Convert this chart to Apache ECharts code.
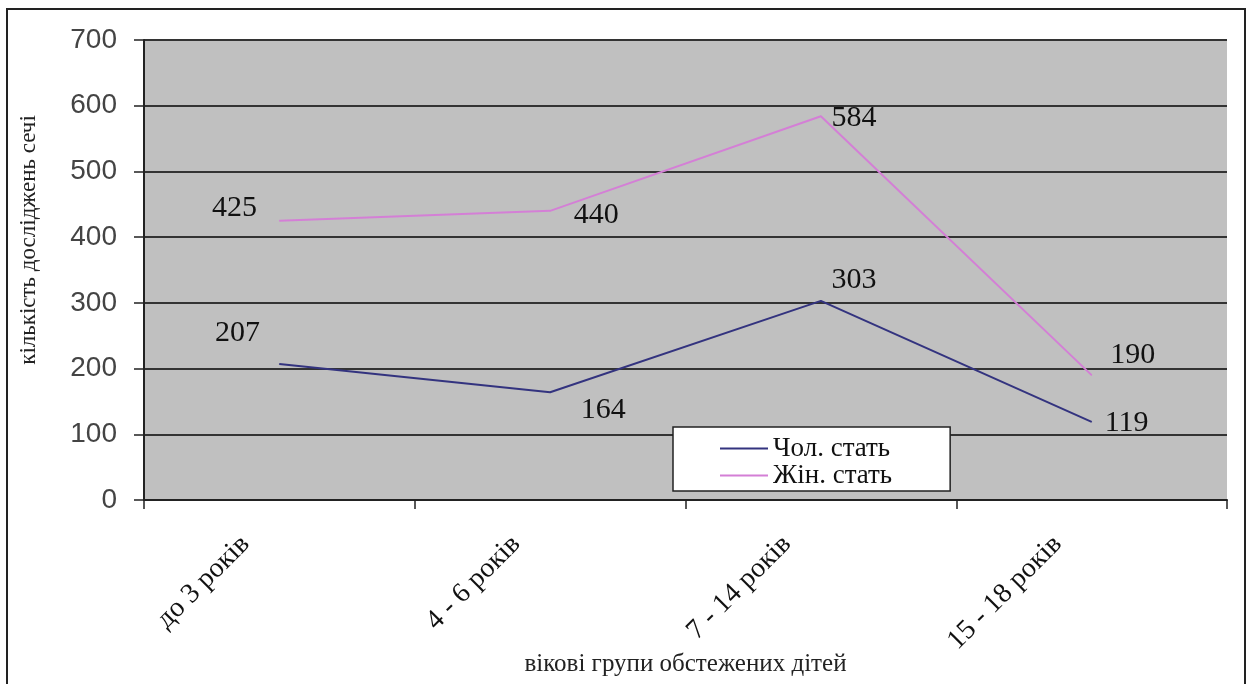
<!DOCTYPE html>
<html>
<head>
<meta charset="utf-8">
<script src="https://cdn.jsdelivr.net/npm/echarts@6/dist/echarts.min.js"></script>
<style>
html,body{margin:0;padding:0;background:#fff;}
#c{width:1251px;height:684px;}
</style>
</head>
<body>
<div id="c"></div>
<script>
var categories = ['до 3 років', '4 - 6 років', '7 - 14 років', '15 - 18 років'];
var maleValues = [207, 164, 303, 119];
var femaleValues = [425, 440, 584, 190];
var seriesNames = ['Чол. стать', 'Жін. стать'];
var yTicks = [0, 100, 200, 300, 400, 500, 600, 700];

// label placement relative to each point (layout only)
var maleLabelOffsets = [[-42, -31], [53, 18], [33, -21], [35, 1]];
var femaleLabelOffsets = [[-45, -13], [46, 4], [33, 2], [41, -20]];

function buildData(values, offsets) {
  return values.map(function (v, i) {
    return { value: v, label: { offset: offsets[i] } };
  });
}

var labelStyle = {
  show: true,
  position: 'inside',
  fontFamily: 'Liberation Serif',
  fontSize: 30,
  color: '#111'
};

var chart = echarts.init(document.getElementById('c'));
chart.setOption({
  backgroundColor: '#fff',
  animation: false,
  graphic: [{
    type: 'rect',
    shape: { x: 7, y: 9, width: 1238, height: 700 },
    style: { fill: 'none', stroke: '#222', lineWidth: 2 },
    z: 100
  }],
  grid: {
    left: 144, right: 24, top: 40, bottom: 184,
    containLabel: false,
    outerBoundsMode: 'none',
    show: true, backgroundColor: '#c0c0c0', borderWidth: 0
  },
  legend: {
    orient: 'vertical',
    left: 673, top: 427,
    backgroundColor: '#fff',
    borderColor: '#222',
    borderWidth: 1.5,
    padding: [8, 58, 2, 47],
    itemGap: 0,
    itemWidth: 48,
    itemHeight: 2,
    textStyle: { fontFamily: 'Liberation Serif', fontSize: 27, color: '#111', lineHeight: 26 },
    data: [
      { name: seriesNames[0], icon: 'rect' },
      { name: seriesNames[1], icon: 'rect' }
    ]
  },
  xAxis: {
    type: 'category',
    data: categories,
    boundaryGap: true,
    axisLine: { lineStyle: { color: '#222', width: 2 } },
    axisTick: { show: true, length: 9, alignWithLabel: false, lineStyle: { color: '#222', width: 1.5 } },
    axisLabel: {
      rotate: 45, margin: 6,
      padding: [0, 48, 0, 0],
      fontFamily: 'Liberation Serif', fontSize: 28, color: '#111'
    },
    name: 'вікові групи обстежених дітей',
    nameLocation: 'middle',
    nameGap: 152,
    nameMoveOverlap: false,
    nameTextStyle: { fontFamily: 'Liberation Serif', fontSize: 25, color: '#222' }
  },
  yAxis: {
    type: 'value',
    min: yTicks[0], max: yTicks[yTicks.length - 1], interval: 100,
    axisLine: { show: true, lineStyle: { color: '#222', width: 2 } },
    axisTick: { show: true, length: 10, lineStyle: { color: '#222', width: 1.5 } },
    axisLabel: { margin: 27, fontFamily: 'Liberation Sans', fontSize: 28, color: '#444' },
    splitLine: { show: true, lineStyle: { color: '#333', width: 2 } },
    name: 'кількість досліджень сечі',
    nameLocation: 'middle',
    nameGap: 104,
    nameRotate: 90,
    nameMoveOverlap: false,
    nameTextStyle: { fontFamily: 'Liberation Serif', fontSize: 23, color: '#222', padding: [0, 0, 0, 60] }
  },
  series: [{
    name: seriesNames[0],
    type: 'line',
    data: buildData(maleValues, maleLabelOffsets),
    symbol: 'circle', symbolSize: 1,
    lineStyle: { color: '#33337f', width: 2 },
    itemStyle: { color: '#33337f' },
    label: labelStyle,
    emphasis: { disabled: true },
    z: 5
  }, {
    name: seriesNames[1],
    type: 'line',
    data: buildData(femaleValues, femaleLabelOffsets),
    symbol: 'circle', symbolSize: 1,
    lineStyle: { color: '#d47fd6', width: 2 },
    itemStyle: { color: '#d47fd6' },
    label: labelStyle,
    emphasis: { disabled: true },
    z: 5
  }]
});
</script>
</body>
</html>
